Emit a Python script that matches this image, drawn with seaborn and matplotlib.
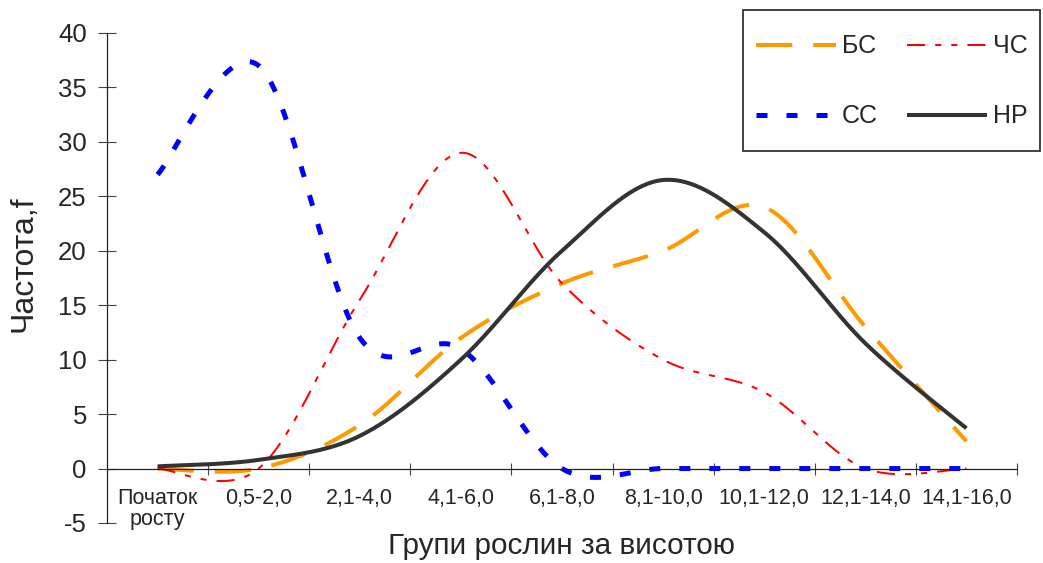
import numpy as np
import pandas as pd
import matplotlib
matplotlib.use("Agg")
import matplotlib.pyplot as plt
from matplotlib.legend_handler import HandlerLine2D
import seaborn as sns

# Height groups of plants and frequencies per group
categories = ["Початок\nросту", "0,5-2,0", "2,1-4,0", "4,1-6,0", "6,1-8,0",
              "8,1-10,0", "10,1-12,0", "12,1-14,0", "14,1-16,0"]
bs_values = [0, 0, 4, 12, 17, 20, 24, 13, 2.5]        # БС
chs_values = [0, 0, 15.5, 29, 17, 10, 7, 0, 0]        # ЧС
ss_values = [27, 37, 12, 11, 0, 0, 0, 0, 0]           # СС
nr_values = [0.2, 0.8, 3, 10, 20, 26.5, 21.7, 11.5, 3.7]  # НР
y_ticks = [-5, 0, 5, 10, 15, 20, 25, 30, 35, 40]


def smooth_curve(values, steps=40):
    """Catmull-Rom spline through the category points (smoothed line)."""
    pts = np.column_stack([np.arange(len(values)), values]).astype(float)
    tang = np.empty_like(pts)
    tang[1:-1] = (pts[2:] - pts[:-2]) / 2
    tang[0] = (pts[1] - pts[0]) / 2
    tang[-1] = (pts[-1] - pts[-2]) / 2
    t = np.linspace(0, 1, steps, endpoint=False)[:, None]
    h00 = 2 * t**3 - 3 * t**2 + 1
    h10 = t**3 - 2 * t**2 + t
    h01 = -2 * t**3 + 3 * t**2
    h11 = t**3 - t**2
    segs = [h00 * pts[i] + h10 * tang[i] + h01 * pts[i + 1] + h11 * tang[i + 1]
            for i in range(len(pts) - 1)]
    segs.append(pts[-1:])
    out = np.vstack(segs)
    return pd.DataFrame({"x": out[:, 0], "y": out[:, 1]})


class CenteredLineHandler(HandlerLine2D):
    """Legend line lowered so it sits level with the label text."""

    def __init__(self, shift=5.0, **kw):
        super().__init__(**kw)
        self.shift = shift

    def create_artists(self, legend, orig_handle, xdescent, ydescent,
                       width, height, fontsize, trans):
        artists = super().create_artists(legend, orig_handle, xdescent,
                                         ydescent, width, height, fontsize,
                                         trans)
        for a in artists:
            a.set_ydata(np.asarray(a.get_ydata(), dtype=float) - self.shift)
        return artists


sns.set_style("white")
plt.rcParams["font.family"] = ["Liberation Sans", "DejaVu Sans"]

fig = plt.figure(figsize=(10.43, 5.63), dpi=100)
ax = fig.add_axes([107 / 1043, 40 / 563, 910 / 1043, 490 / 563])

series = {
    "БС": (bs_values, "#FF9900", 2.9, (9, 5.2)),
    "ЧС": (chs_values, "#FF0000", 1.45, (9, 5, 3, 5, 3, 5)),
    "СС": (ss_values, "#0000FF", 3.6, (2.2, 3.8)),
    "НР": (nr_values, "#333333", 2.9, None),
}

lines = {}
for name, (vals, color, lw, dash) in series.items():
    df = smooth_curve(vals)
    sns.lineplot(data=df, x="x", y="y", ax=ax, color=color, linewidth=lw,
                 sort=False, estimator=None, label=name)
    line = ax.lines[-1]
    if dash is not None:
        line.set_dashes(dash)
    line.set_dash_capstyle("butt")
    line.set_solid_capstyle("butt")
    lines[name] = line

ax.set_xlim(-0.5, len(categories) - 0.5)
ax.set_ylim(-5, 40)

# Axes lines: y axis on the left, x axis through zero
for s in ["top", "right"]:
    ax.spines[s].set_visible(False)
ax.spines["bottom"].set_position(("data", 0))
for s in ["left", "bottom"]:
    ax.spines[s].set_color("#222222")
    ax.spines[s].set_linewidth(0.9)

ax.set_yticks(y_ticks)
ax.set_yticklabels([str(v) for v in y_ticks])
ax.tick_params(axis="y", direction="inout", length=13, width=0.8,
               color="#444444", labelsize=18.5, pad=8, left=True)

# Tick marks between categories, labels at the category centres
ax.set_xticks(np.arange(0.5, len(categories), 1.0))
ax.set_xticklabels([])
ax.set_xticks(np.arange(len(categories)), minor=True)
ax.set_xticklabels(categories, minor=True, fontsize=15.5, linespacing=1.0)
ax.tick_params(axis="x", which="major", direction="inout", length=9,
               width=0.8, color="#444444", bottom=True)
ax.tick_params(axis="x", which="minor", length=0, pad=14)

ax.set_xlabel("Групи рослин за висотою", fontsize=21.4, va="top")
ax.xaxis.set_label_coords(0.5, -0.018)
ax.set_ylabel("Частота,f", fontsize=23)
ax.yaxis.set_label_coords(-0.075, 0.53)
ax.grid(False)

# Legend filled column-wise: БС/СС in the first column, ЧС/НР in the second
order = ["БС", "СС", "ЧС", "НР"]
leg = ax.legend(handles=[lines[k] for k in order], labels=order, ncol=2,
                loc="upper right", bbox_to_anchor=(1040 / 1043, 553 / 563),
                bbox_transform=fig.transFigure, borderaxespad=0,
                fontsize=18, handlelength=3.2, handletextpad=0.25,
                handleheight=2.45, columnspacing=1.15, labelspacing=0.96,
                borderpad=0.5, frameon=True, fancybox=False, framealpha=1,
                handler_map={matplotlib.lines.Line2D: CenteredLineHandler(5.0)})
leg.get_frame().set_edgecolor("#333333")
leg.get_frame().set_linewidth(1.3)

fig.savefig("out.png", dpi=100)
